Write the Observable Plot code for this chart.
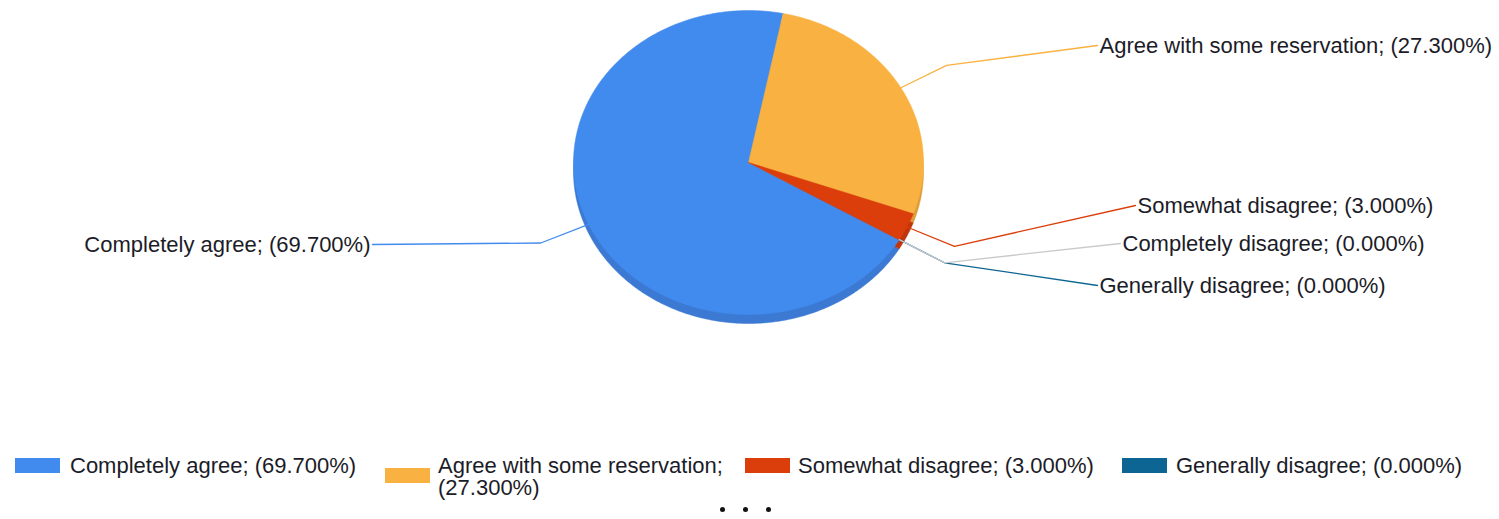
<!DOCTYPE html>
<html><head><meta charset="utf-8">
<script src="https://cdn.jsdelivr.net/npm/d3@7"></script>
<script src="https://cdn.jsdelivr.net/npm/@observablehq/plot@0.6"></script>
<style>
body{margin:0;background:#fff;font-family:"Liberation Sans",Arial,sans-serif;}
#wrap{position:relative;width:1499px;height:519px;overflow:hidden}
#legend{position:absolute;left:0;top:440px;width:1499px;height:79px}
.item{position:absolute;font-size:22px;color:#1c1c28;line-height:22px;white-space:nowrap}
.sw{position:absolute;width:45px;height:15px}
.dot{position:absolute;width:5px;height:5px;border-radius:50%;background:#111}
</style></head><body><div id="wrap"><div id="chart"></div><div id="legend"></div></div>
<script>
// ---- data ----
const categories = ["Completely agree", "Agree with some reservation", "Somewhat disagree", "Generally disagree", "Completely disagree"];
const percents = [69.7, 27.3, 3.0, 0.0, 0.0];
const colors = ["#428BEE", "#F9B241", "#DB3E0B", "#0D6593", "#CACACA"];
const sideColors = ["#3B79D2", "#DE9C38", "#BF360A", "#0A5680", "#ADADAD"];
const legendShown = [0, 1, 2, 3];

// ---- layout ----
const W = 1499, H = 440;
const cx = 748, cy = 162, rx = 175, ry = 152, depth = 9, startDeg = 120.5;
const labelAnchors = [[372, 244, "end"], [1097, 45, "start"], [1135, 205, "start"], [1097, 285, "start"], [1120, 243, "start"]];

const labelText = i => `${categories[i]}; (${percents[i].toFixed(3)}%)`;
const total = d3.sum(percents);
const rad = Math.PI / 180;
const pt = (deg, r = 1, dy = 0) => ({x: cx + rx * r * Math.sin(deg * rad), y: cy - ry * r * Math.cos(deg * rad) + dy});

let acc = startDeg;
const slices = percents.map((v, i) => {
  const s = acc, e = acc + v / total * 360; acc = e;
  return {i, s, e, mid: (s + e) / 2};
});

function polygon(sl, dy, col) {
  const pts = [{...pt(0, 0, dy), k: sl.i, c: col}];
  const n = Math.max(2, Math.ceil((sl.e - sl.s) / 0.5));
  for (let j = 0; j <= n; j++) pts.push({...pt(sl.s + (sl.e - sl.s) * j / n, 1, dy), k: sl.i, c: col});
  return pts;
}
const live = slices.filter(s => s.e - s.s > 0);
const sidePts = live.flatMap(s => polygon(s, depth, sideColors[s.i]));
const topPts = live.flatMap(s => polygon(s, 0, colors[s.i]));

const leaders = slices.flatMap(s => {
  const [lx, ly] = labelAnchors[s.i];
  return [pt(s.mid, 1), pt(s.mid, 1.3), {x: lx, y: ly}].map(p => ({...p, k: s.i, c: colors[s.i]}));
});
const labels = slices.map(s => ({x: labelAnchors[s.i][0] + (labelAnchors[s.i][2] === "end" ? -2 : 2), y: labelAnchors[s.i][1], anchor: labelAnchors[s.i][2], t: labelText(s.i)}));

const chart = Plot.plot({
  width: W, height: H, margin: 0,
  x: {domain: [0, W], range: [0, W], axis: null},
  y: {domain: [0, H], range: [0, H], axis: null},
  color: {type: "identity"},
  style: {fontFamily: "'Liberation Sans', Arial, sans-serif", background: "#fff"},
  marks: [
    Plot.line(sidePts, {x: "x", y: "y", z: "k", fill: "c", stroke: "c", strokeWidth: 0.5, curve: "linear-closed"}),
    Plot.line(topPts, {x: "x", y: "y", z: "k", fill: "c", stroke: "c", strokeWidth: 0.5, curve: "linear-closed"}),
    Plot.line(leaders, {x: "x", y: "y", z: "k", stroke: "c", strokeWidth: 1.3}),
    Plot.text(labels.filter(d => d.anchor === "end"), {x: "x", y: "y", text: "t", textAnchor: "end", fontSize: 22, fill: "#1c1c28"}),
    Plot.text(labels.filter(d => d.anchor === "start"), {x: "x", y: "y", text: "t", textAnchor: "start", fontSize: 22, fill: "#1c1c28"})
  ]
});
document.getElementById("chart").appendChild(chart);

// ---- legend ----
const lg = document.getElementById("legend");
const swX = [15, 385, 745, 1122], txX = [70, 438, 798, 1176];
legendShown.forEach((ci, j) => {
  const sw = document.createElement("div");
  sw.className = "sw"; sw.style.left = swX[j] + "px";
  sw.style.top = (ci === 1 ? 28 : 18) + "px"; sw.style.background = colors[ci];
  lg.appendChild(sw);
  const t = document.createElement("div");
  t.className = "item"; t.style.left = txX[j] + "px"; t.style.top = "15px";
  if (ci === 1) { t.style.whiteSpace = "normal"; t.style.width = "300px"; }
  t.textContent = labelText(ci);
  lg.appendChild(t);
});
[722, 745, 768].forEach(x => {
  const d = document.createElement("div"); d.className = "dot";
  d.style.left = (x - 2) + "px"; d.style.top = "67px"; lg.appendChild(d);
});
</script></body></html>
